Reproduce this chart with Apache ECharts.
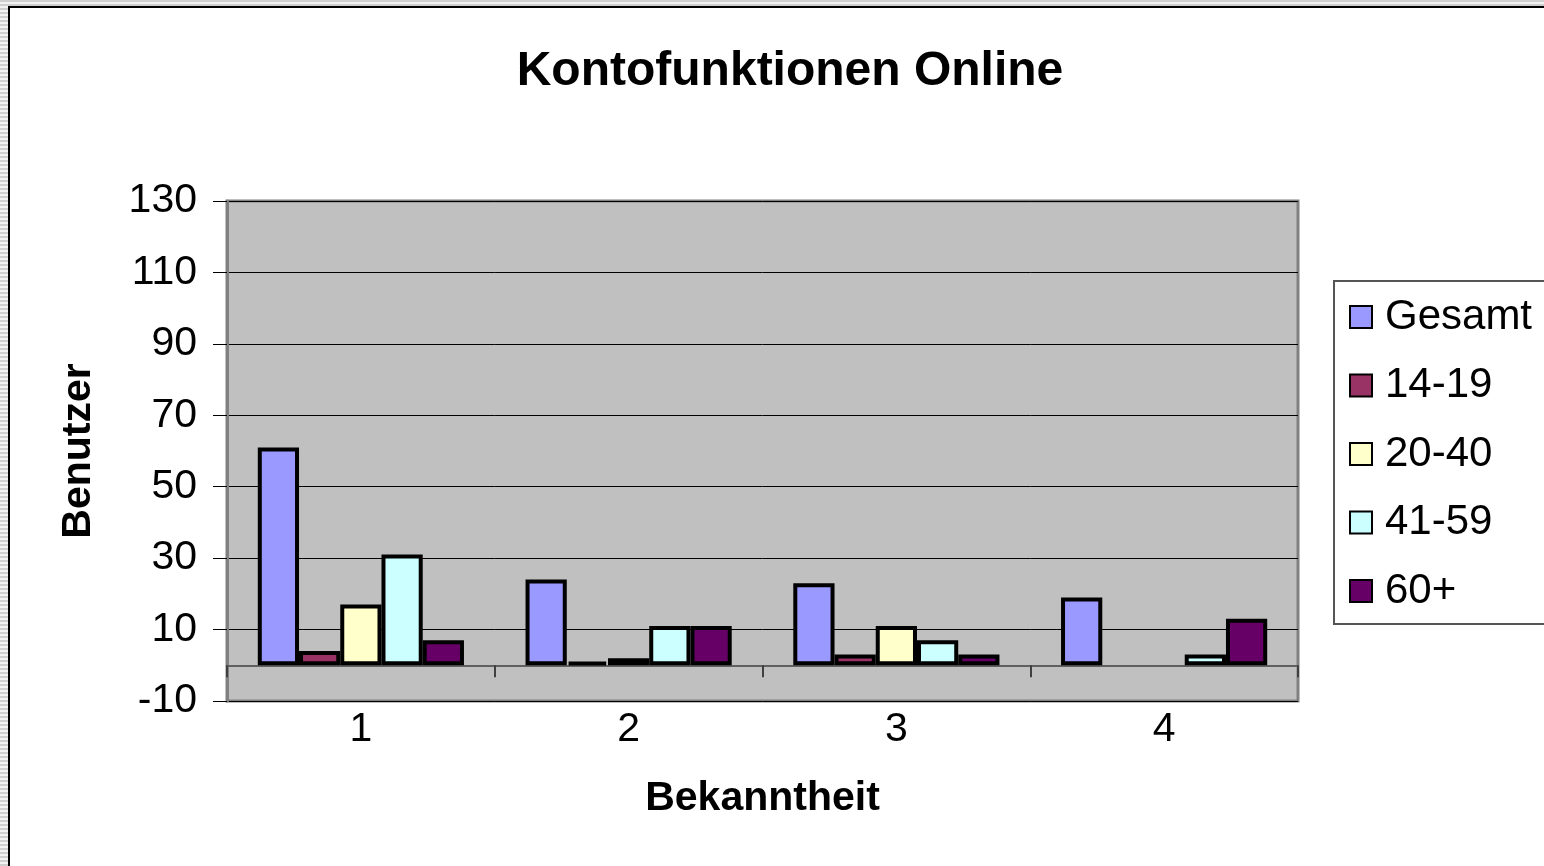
<!DOCTYPE html>
<html>
<head>
<meta charset="UTF-8">
<title>Kontofunktionen Online</title>
<script src="https://cdn.jsdelivr.net/npm/echarts@6/dist/echarts.min.js"></script>
<style>
  html, body { margin: 0; padding: 0; }
  body {
    width: 1544px; height: 866px; position: relative; overflow: hidden;
    background: repeating-linear-gradient(to bottom, #cfcfcf 0, #cfcfcf 2px, #f2f2f2 2px, #f2f2f2 4px);
  }
  #frame {
    position: absolute; left: 8px; top: 6px; width: 1600px; height: 900px;
    background: #fff; border: 2px solid #000;
  }
  #chart { position: absolute; left: 0; top: 0; width: 1544px; height: 866px; }
</style>
</head>
<body>
<div id="frame"></div>
<div id="chart"></div>
<script type="text/javascript">
// Bekanntheit (1..4) / Benutzer je Altersgruppe
var categories = ['1', '2', '3', '4'];
var seriesNames = ['Gesamt', '14-19', '20-40', '41-59', '60+'];
var gesamt = [61, 24, 23, 19];
var age14to19 = [4, 1, 3, 0];
var age20to40 = [17, 2, 11, 0];
var age41to59 = [31, 11, 7, 3];
var age60plus = [7, 11, 3, 13];
var colors = ['#9999FF', '#993366', '#FFFFCC', '#CCFFFF', '#660066'];

var values = [gesamt, age14to19, age20to40, age41to59, age60plus];
var font = 'Liberation Sans, Arial, sans-serif';

var series = [];
for (var i = 0; i < seriesNames.length; i++) {
  // Excel zeichnet bei 0 keinen Rahmen
  var data = values[i].map(function (v) {
    return v === 0 ? { value: v, itemStyle: { borderWidth: 0 } } : v;
  });
  series.push({
    name: seriesNames[i],
    type: 'bar',
    barGap: '0%',
    barCategoryGap: '23%',
    itemStyle: { color: colors[i], borderColor: '#000', borderWidth: 4 },
    data: data
  });
}

var myChart = echarts.init(document.getElementById('chart'));
myChart.setOption({
  backgroundColor: 'transparent',
  animation: false,
  title: {
    text: 'Kontofunktionen Online',
    left: 785, top: 43, textAlign: 'center',
    textStyle: { fontFamily: font, fontSize: 48, fontWeight: 'bold', color: '#000' }
  },
  legend: {
    orient: 'vertical',
    left: 1334, top: 281,
    padding: [15, 40, 12, 15],
    itemGap: 26.5,
    itemWidth: 22, itemHeight: 22,
    icon: 'rect',
    borderColor: '#555', borderWidth: 2,
    backgroundColor: '#fff',
    textStyle: { fontFamily: font, fontSize: 42, color: '#000', padding: [0, 0, 0, 8] },
    data: seriesNames
  },
  grid: {
    left: 227, right: 246, top: 201, bottom: 165,
    show: true, backgroundColor: '#C0C0C0', borderColor: '#808080', borderWidth: 3
  },
  xAxis: {
    type: 'category',
    data: categories,
    name: 'Bekanntheit',
    nameLocation: 'middle',
    nameGap: 77,
    nameTextStyle: { fontFamily: font, fontSize: 41, fontWeight: 'bold', color: '#000' },
    axisLine: { onZero: true, lineStyle: { color: '#606060', width: 2 } },
    axisTick: { show: true, length: 12, lineStyle: { color: '#404040', width: 2 } },
    axisLabel: { margin: 8, fontFamily: font, fontSize: 41, color: '#000' }
  },
  yAxis: {
    type: 'value',
    min: -10, max: 130, interval: 20,
    name: 'Benutzer',
    nameLocation: 'middle',
    nameGap: 128,
    nameTextStyle: { fontFamily: font, fontSize: 41, fontWeight: 'bold', color: '#000' },
    axisLine: { show: true, lineStyle: { color: '#808080', width: 3 } },
    axisTick: { show: true, length: 14, lineStyle: { color: '#000', width: 1 } },
    axisLabel: { margin: 30, fontFamily: font, fontSize: 41, color: '#000' },
    splitLine: { show: true, lineStyle: { color: '#000', width: 1 } }
  },
  series: series
});
</script>
</body>
</html>
